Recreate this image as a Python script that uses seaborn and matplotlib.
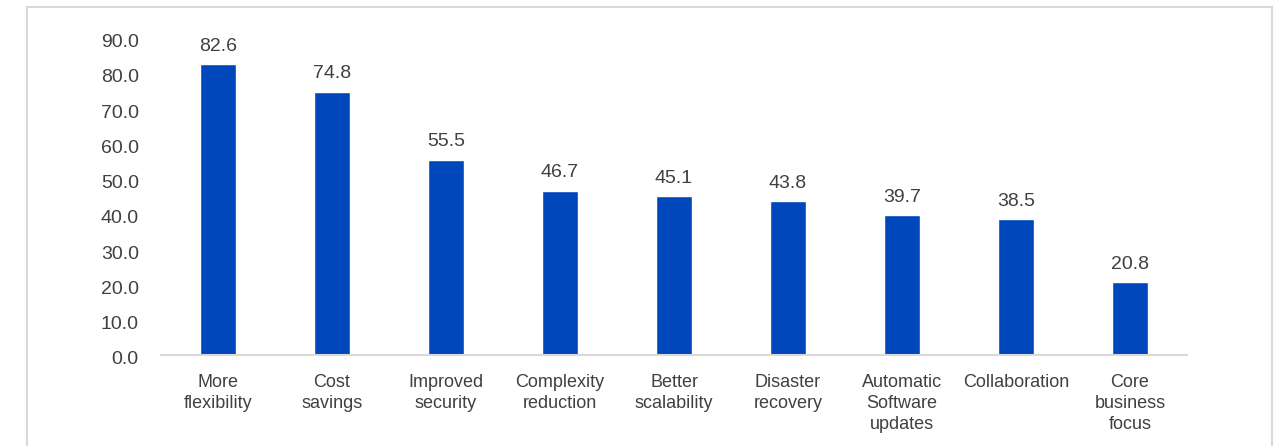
import matplotlib
matplotlib.use("Agg")
import matplotlib.pyplot as plt
from matplotlib.patches import Rectangle
from matplotlib.transforms import ScaledTranslation
import seaborn as sns
import pandas as pd

categories = [
    "More\nflexibility",
    "Cost\nsavings",
    "Improved\nsecurity",
    "Complexity\nreduction",
    "Better\nscalability",
    "Disaster\nrecovery",
    "Automatic\nSoftware\nupdates",
    "Collaboration",
    "Core\nbusiness\nfocus",
]
values = [82.6, 74.8, 55.5, 46.7, 45.1, 43.8, 39.7, 38.5, 20.8]
y_ticks = [0, 10, 20, 30, 40, 50, 60, 70, 80, 90]

sns.set_style("white")
plt.rcParams["font.family"] = ["Liberation Sans", "DejaVu Sans"]

text_color = "#404040"
bar_color = "#0047BB"
grid_color = "#D9D9D9"
num_size = 14
cat_size = 13

df = pd.DataFrame({"category": categories, "value": values})

fig = plt.figure(figsize=(12.78, 4.46), dpi=100)
ax = fig.add_axes([161 / 1278, 1 - 355 / 446, (1187 - 161) / 1278, (355 - 38) / 446])

sns.barplot(data=df, x="category", y="value", color=bar_color, width=0.32,
            saturation=1, ax=ax)

ax.set_ylim(0, 90)
ax.set_yticks(y_ticks)
ax.set_yticklabels([f"{t:.1f}" for t in y_ticks])
ax.set_xlabel("")
ax.set_ylabel("")

for i, v in enumerate(values):
    ax.annotate(f"{v:.1f}", xy=(i, v), xytext=(0, 9.5), textcoords="offset points",
                ha="center", va="baseline", fontsize=num_size, color=text_color)

for side in ["top", "right", "left"]:
    ax.spines[side].set_visible(False)
ax.spines["bottom"].set_color(grid_color)
ax.spines["bottom"].set_linewidth(1.5)

ax.tick_params(axis="y", length=0, pad=16, labelsize=num_size, labelcolor=text_color)
ax.tick_params(axis="x", length=0, pad=13.5, labelsize=cat_size, labelcolor=text_color)
for lbl in ax.get_xticklabels():
    lbl.set_linespacing(1.32)
shift = ScaledTranslation(0, -2 / 72, fig.dpi_scale_trans)
for lbl in ax.get_yticklabels():
    lbl.set_transform(lbl.get_transform() + shift)

# outer chart frame
fig.patches.append(Rectangle((27 / 1278, -0.05), (1272 - 27) / 1278, 1.05 - 7 / 446,
                             transform=fig.transFigure, fill=False,
                             edgecolor=grid_color, linewidth=1.5))

fig.savefig("out.png", dpi=100)
